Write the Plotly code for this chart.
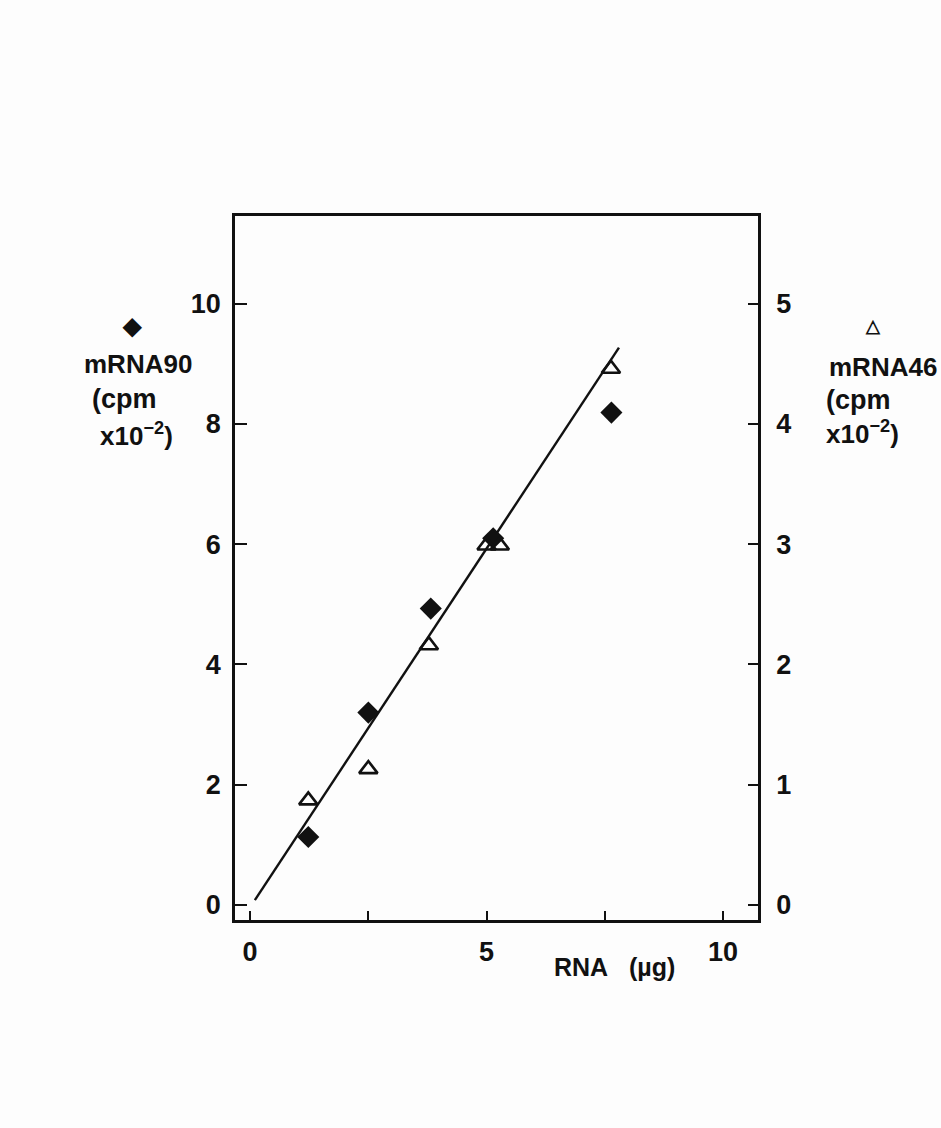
import plotly.graph_objects as go

# RNA loaded (µg)
rna_90 = [1.23, 2.5, 3.82, 5.14, 7.64]
cpm_90 = [1.13, 3.2, 4.93, 6.1, 8.19]          # left axis, cpm x10^-2

rna_46 = [1.23, 2.5, 3.78, 5.0, 5.28, 7.63]
cpm_46 = [0.87, 1.13, 2.16, 2.99, 2.99, 4.46]  # right axis, cpm x10^-2

# regression line through both series (left-axis units)
fit_x = [0.1, 7.8]
fit_y = [0.08, 9.27]

x_ticks = [0, 5, 10]
x_minor = 2.5
left_ticks = [0, 2, 4, 6, 8, 10]
right_ticks = [0, 1, 2, 3, 4, 5]

FONT = "Liberation Sans, Arial, sans-serif"
INK = "#111111"

fig = go.Figure()

fig.add_trace(go.Scatter(
    x=fit_x, y=fit_y, mode="lines",
    line=dict(color=INK, width=2.4), showlegend=False, hoverinfo="skip"))

fig.add_trace(go.Scatter(
    x=rna_90, y=cpm_90, mode="markers",
    marker=dict(symbol="diamond", size=17, color=INK, line=dict(width=0)),
    showlegend=False))

fig.add_trace(go.Scatter(
    x=rna_46, y=cpm_46, mode="markers", yaxis="y2",
    marker=dict(symbol="triangle-up-open", size=16, color=INK,
                line=dict(width=2.6, color=INK)),
    showlegend=False))

yr = [-0.25, 11.46]
tick_font = dict(family=FONT, size=27, color=INK, weight="bold")
fig.update_layout(
    width=941, height=1128,
    margin=dict(l=235, r=183, t=216, b=208),
    paper_bgcolor="#fdfdfd", plot_bgcolor="#fdfdfd",
    font=dict(family=FONT, color=INK, size=26),
    xaxis=dict(
        range=[-0.32, 10.74], tickvals=x_ticks, ticktext=[str(v) for v in x_ticks],
        ticks="inside", ticklen=9, tickwidth=2, tickcolor=INK,
        minor=dict(dtick=x_minor, tick0=0, ticks="inside", ticklen=9,
                   tickwidth=2, tickcolor=INK, showgrid=False),
        showline=True, linecolor=INK, linewidth=2.5, mirror=True,
        showgrid=False, zeroline=False,
        tickfont=tick_font, ticklabelstandoff=6),
    yaxis=dict(
        range=yr, tickvals=left_ticks,
        ticks="inside", ticklen=12, tickwidth=2, tickcolor=INK,
        showline=True, linecolor=INK, linewidth=2.5,
        showgrid=False, zeroline=False,
        tickfont=tick_font, ticklabelstandoff=6),
    yaxis2=dict(
        range=[v / 2 for v in yr], tickvals=right_ticks,
        overlaying="y", side="right",
        ticks="inside", ticklen=10, tickwidth=2, tickcolor=INK,
        showline=True, linecolor=INK, linewidth=2.5,
        showgrid=False, zeroline=False,
        tickfont=tick_font, ticklabelstandoff=10),
)

W, H = 941, 1128
l, r, t, b = 235, 183, 216, 208
pw, ph = W - l - r, H - t - b


def px(xp):
    return (xp - l) / pw


def py(yp):
    return (H - b - yp) / ph


def label(text, x, y, size=26):
    fig.add_annotation(text=text, xref="paper", yref="paper",
                       x=px(x), y=py(y), showarrow=False,
                       xanchor="center", yanchor="middle",
                       font=dict(family=FONT, size=size, color=INK, weight="bold"))


# left-axis series key
label("\u25c6", 132, 325, size=24)
label("mRNA90", 138, 364)
label("(cpm", 124, 399, size=27)
label("x10<sup>\u22122</sup>)", 136, 434)

# right-axis series key
label("\u25b3", 873, 326, size=18)
label("mRNA46", 883, 367)
label("(cpm", 858, 400, size=27)
label("x10<sup>\u22122</sup>)", 862, 432)

# x-axis title
label("RNA&nbsp;&nbsp;&nbsp;(µg)", 614, 967, size=25)

fig.write_html("out.html")
